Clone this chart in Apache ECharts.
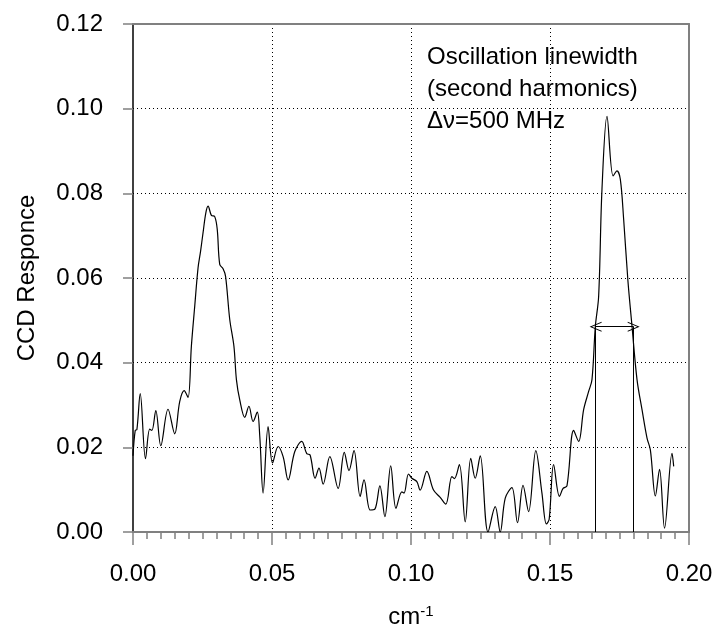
<!DOCTYPE html>
<html>
<head>
<meta charset="utf-8">
<script src="https://cdn.jsdelivr.net/npm/echarts@6/dist/echarts.min.js"></script>
<style>
  html, body { margin: 0; padding: 0; background: #fff; }
  #chart { width: 718px; height: 637px; }
</style>
</head>
<body>
<div id="chart"></div>
<script>
// spectrum (cm^-1 vs CCD response)
var waveNumber = [
  0.0000, 0.0008, 0.0014, 0.0026, 0.0045, 0.0060, 0.0068, 0.0082, 0.0100, 0.0126,
  0.0150, 0.0168, 0.0184, 0.0198, 0.0210, 0.0222, 0.0234, 0.0243, 0.0252, 0.0262,
  0.0270, 0.0282, 0.0294, 0.0303, 0.0312, 0.0324, 0.0333, 0.0348, 0.0363, 0.0372,
  0.0384, 0.0402, 0.0417, 0.0432, 0.0447, 0.0456, 0.0468, 0.0486, 0.0502, 0.0522,
  0.0540, 0.0558, 0.0582, 0.0607, 0.0625, 0.0637, 0.0655, 0.0669, 0.0684, 0.0708,
  0.0738, 0.0760, 0.0777, 0.0795, 0.0817, 0.0831, 0.0853, 0.0870, 0.0888, 0.0906,
  0.0927, 0.0946, 0.0967, 0.0975, 0.0991, 0.1003, 0.1021, 0.1033, 0.1057, 0.1081,
  0.1105, 0.1125, 0.1147, 0.1156, 0.1174, 0.1195, 0.1215, 0.1231, 0.1249, 0.1277,
  0.1303, 0.1321, 0.1339, 0.1363, 0.1383, 0.1403, 0.1423, 0.1449, 0.1471, 0.1487,
  0.1497, 0.1513, 0.1534, 0.1547, 0.1561, 0.1585, 0.1603, 0.1621, 0.1639, 0.1651,
  0.1663, 0.1675, 0.1687, 0.1705, 0.1727, 0.1741, 0.1753, 0.1765, 0.1780, 0.1795,
  0.1813, 0.1831, 0.1849, 0.1861, 0.1879, 0.1894, 0.1912, 0.1939, 0.1945
];
var response = [
  0.0180, 0.0240, 0.0242, 0.0327, 0.0173, 0.0243, 0.0240, 0.0287, 0.0204, 0.0290,
  0.0232, 0.0308, 0.0334, 0.0318, 0.0439, 0.0533, 0.0624, 0.0663, 0.0707, 0.0754,
  0.0770, 0.0748, 0.0745, 0.0715, 0.0632, 0.0622, 0.0604, 0.0502, 0.0439, 0.0360,
  0.0312, 0.0271, 0.0297, 0.0261, 0.0283, 0.0226, 0.0092, 0.0249, 0.0163, 0.0202,
  0.0178, 0.0123, 0.0190, 0.0214, 0.0185, 0.0182, 0.0127, 0.0151, 0.0113, 0.0178,
  0.0103, 0.0188, 0.0145, 0.0192, 0.0084, 0.0123, 0.0052, 0.0054, 0.0109, 0.0036,
  0.0156, 0.0056, 0.0095, 0.0092, 0.0137, 0.0127, 0.0119, 0.0099, 0.0143, 0.0099,
  0.0082, 0.0066, 0.0131, 0.0126, 0.0159, 0.0024, 0.0174, 0.0127, 0.0180, 0.0000,
  0.0060, 0.0000, 0.0080, 0.0105, 0.0022, 0.0110, 0.0048, 0.0192, 0.0092, 0.0019,
  0.0030, 0.0159, 0.0084, 0.0103, 0.0109, 0.0240, 0.0214, 0.0289, 0.0332, 0.0360,
  0.0485, 0.0557, 0.0810, 0.0982, 0.0841, 0.0853, 0.0833, 0.0738, 0.0596, 0.0486,
  0.0360, 0.0289, 0.0222, 0.0194, 0.0085, 0.0148, 0.0009, 0.0186, 0.0155
];

// linewidth marker (FWHM of the second harmonic peak)
var halfWidthX = [0.1664, 0.1801];
var halfWidthY = 0.0485;

var noteLines = ['Oscillation linewidth', '(second harmonics)', '\u0394\u03bd=500 MHz'];

var FONT = '"Liberation Sans", Arial, sans-serif';
var GRAY = '#808080';

var points = [];
for (var i = 0; i < waveNumber.length; i++) {
  points.push([waveNumber[i], response[i]]);
}

var chevron = 'path://M0 10 L5 0 L10 10 L9 10 L5 2 L1 10 Z';

var chart = echarts.init(document.getElementById('chart'));

chart.setOption({
  animation: false,
  backgroundColor: '#fff',
  textStyle: { fontFamily: FONT },
  grid: { left: 133, right: 29, top: 24, bottom: 105 },
  xAxis: [{
    type: 'value',
    min: 0,
    max: 0.2,
    interval: 0.05,
    name: 'cm{sup|-1}',
    nameLocation: 'middle',
    nameGap: 72,
    nameTextStyle: {
      fontSize: 24, color: '#000', fontFamily: FONT,
      rich: { sup: { fontSize: 15, verticalAlign: 'top', padding: [0, 0, 12, 0], color: '#000', fontFamily: FONT } }
    },
    axisLine: { onZero: false, lineStyle: { color: GRAY, width: 2 } },
    axisTick: { length: 13, lineStyle: { color: GRAY, width: 1.5 } },
    minorTick: { show: true, splitNumber: 10, length: 7, lineStyle: { color: GRAY, width: 1.5 } },
    axisLabel: {
      fontSize: 24, color: '#000', margin: 30,
      formatter: function (v) { return v.toFixed(2); }
    },
    splitLine: {
      show: true, showMinLine: false, showMaxLine: false,
      lineStyle: { color: '#000', width: 1, type: [1, 3] }
    }
  }, {
    type: 'value', position: 'top', min: 0, max: 0.2,
    axisLine: { show: true, onZero: false, lineStyle: { color: GRAY, width: 2 } },
    axisTick: { show: false }, axisLabel: { show: false }, splitLine: { show: false }
  }],
  yAxis: [{
    type: 'value',
    min: 0,
    max: 0.12,
    interval: 0.02,
    name: 'CCD Responce',
    nameLocation: 'middle',
    nameGap: 94,
    nameTextStyle: { fontSize: 24, color: '#000', fontFamily: FONT },
    axisLine: { show: true, onZero: false, lineStyle: { color: '#000', width: 1.5 } },
    axisTick: { show: true, length: 10, lineStyle: { color: GRAY, width: 1.5 } },
    axisLabel: {
      fontSize: 24, color: '#000', margin: 30,
      formatter: function (v) { return v.toFixed(2); }
    },
    splitLine: {
      show: true, showMinLine: false, showMaxLine: false,
      lineStyle: { color: '#000', width: 1, type: [1, 3] }
    }
  }, {
    type: 'value', position: 'right', min: 0, max: 0.12,
    axisLine: { show: true, onZero: false, lineStyle: { color: GRAY, width: 2 } },
    axisTick: { show: false }, axisLabel: { show: false }, splitLine: { show: false }
  }],
  graphic: [{
    type: 'text',
    left: 427,
    top: 41,
    style: {
      text: noteLines.join('\n'),
      font: '24px ' + FONT,
      lineHeight: 32,
      fill: '#000'
    }
  }],
  series: [{
    type: 'line',
    data: points,
    smooth: 0.35,
    showSymbol: false,
    lineStyle: { color: '#000', width: 1.2 },
    markLine: {
      silent: true,
      animation: false,
      label: { show: false },
      lineStyle: { color: '#000', width: 1, type: 'solid' },
      symbol: 'none',
      data: [
        [{ coord: [halfWidthX[0], 0], symbol: 'none' }, { coord: [halfWidthX[0], halfWidthY], symbol: 'none' }],
        [{ coord: [halfWidthX[1], 0], symbol: 'none' }, { coord: [halfWidthX[1], halfWidthY], symbol: 'none' }],
        [{ coord: [halfWidthX[0], halfWidthY], symbol: chevron, symbolSize: [10, 12] },
         { coord: [halfWidthX[1], halfWidthY], symbol: chevron, symbolSize: [10, 12] }]
      ]
    }
  }]
});
</script>
</body>
</html>
